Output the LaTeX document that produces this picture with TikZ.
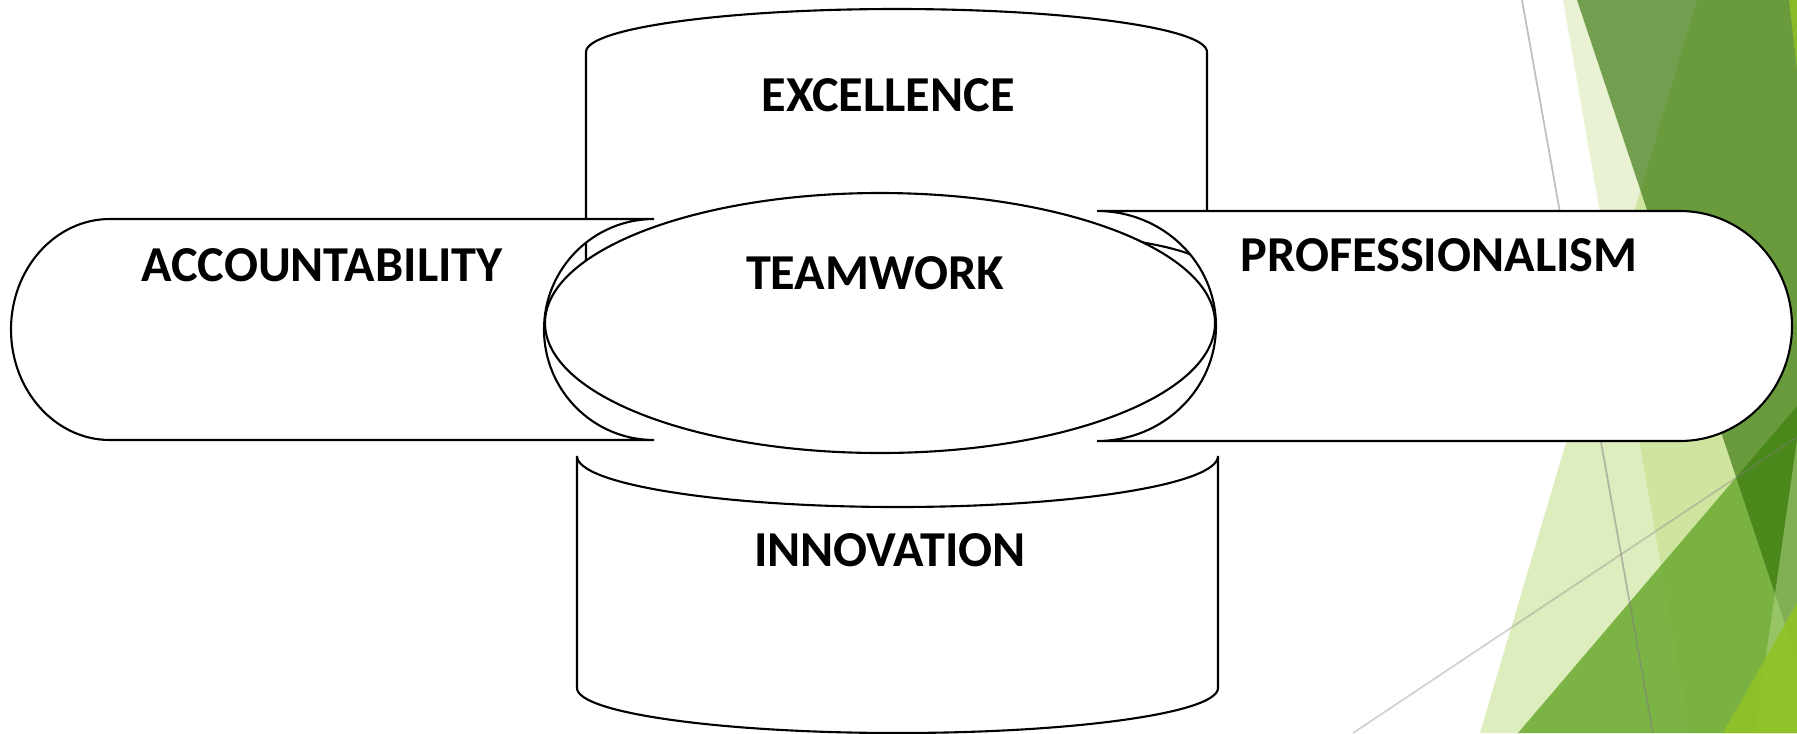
\documentclass[tikz,border=0pt]{standalone}
\usepackage{fontspec}
\setmainfont{Carlito}
\definecolor{facet}{HTML}{90C226}
\definecolor{facetdark}{HTML}{337309}
\definecolor{facetmid}{HTML}{76B03E}
\definecolor{facetlight}{HTML}{B5D98A}
\begin{document}
\begin{tikzpicture}[x=0.01cm, y=-0.01cm,
    pillar/.style={draw=black, fill=white, line width=0.6pt},
    valtext/.style={font=\fontsize{14.3}{16}\selectfont\bfseries, inner sep=0pt}]
    \useasboundingbox (0,0) rectangle (1797,733);

    % Draw background facets
    \begin{scope}
        \clip (0,0) rectangle (1797,733);
        \fill[facet, opacity=0.2] (1563,0) -- (1797,0) -- (1797,733) -- (1690,733) -- cycle;
        \fill[facet, opacity=0.3] (1697,0) -- (1797,0) -- (1797,733) -- (1480,733) -- cycle;
        \fill[facetmid, opacity=0.95] (1518,733) -- (1797,406) -- (1797,733) -- cycle;
        \fill[facetdark, opacity=0.65] (1577,0) -- (1797,0) -- (1797,660) -- cycle;
        \fill[facetlight, opacity=0.5] (1797,440) -- (1797,733) -- (1755,733) -- cycle;
        \fill[facet, opacity=0.9] (1723,733) -- (1797,603) -- (1797,733) -- cycle;
        \fill[facet, opacity=0.8] (1789,0) -- (1797,0) -- (1797,70) -- cycle;
        \draw[gray, opacity=0.5, line width=0.5pt] (1522,0) -- (1653,733);
        \draw[gray, opacity=0.35, line width=0.5pt] (1353,733) -- (1797,437);
    \end{scope}

    % Draw excellence (top)
    \draw[pillar] (586,268) -- (586,52)
        arc[start angle=180, end angle=360, x radius=310.5, y radius=43]
        -- (1207,268)
        arc[start angle=360, end angle=180, x radius=310.5, y radius=42] -- cycle;

    % Draw innovation (bottom)
    \draw[pillar] (577,456)
        arc[start angle=180, end angle=0, x radius=320.5, y radius=51]
        -- (1218,688)
        arc[start angle=0, end angle=180, x radius=320.5, y radius=45] -- cycle;

    % Draw accountability (left)
    \draw[pillar] (654,219) -- (110,219)
        arc[start angle=270, end angle=90, x radius=99, y radius=110.5]
        -- (654,440)
        arc[start angle=90, end angle=270, x radius=110, y radius=110.5] -- cycle;

    % Draw professionalism (right)
    \draw[pillar] (1097,211) -- (1680,211)
        arc[start angle=270, end angle=450, x radius=112, y radius=115]
        -- (1097,441)
        arc[start angle=90, end angle=-90, x radius=119, y radius=115] -- cycle;

    % Draw teamwork (centre)
    \draw[pillar] (880,323) ellipse[x radius=335, y radius=130];

    % Values
    \node[valtext] (excel) at (888,95) {EXCELLENCE};
    \node[valtext] (account) at (322,265) {ACCOUNTABILITY};
    \node[valtext] (team) at (875,273) {TEAMWORK};
    \node[valtext] (prof) at (1439,255) {PROFESSIONALISM};
    \node[valtext] (innov) at (890,550) {INNOVATION};
\end{tikzpicture}
\end{document}
